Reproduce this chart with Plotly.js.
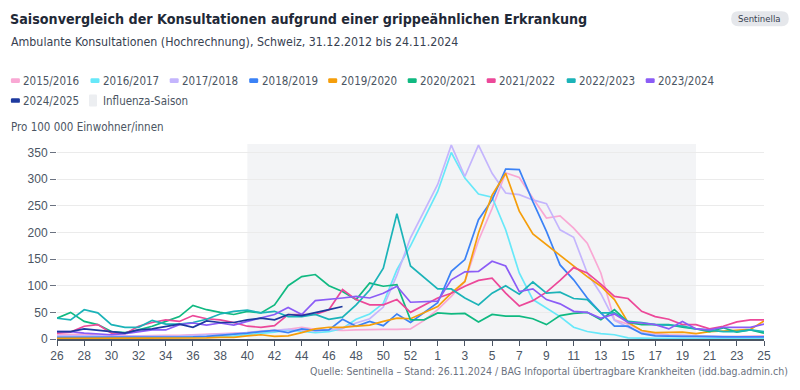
<!DOCTYPE html>
<html><head><meta charset="utf-8">
<script src="https://cdn.plot.ly/plotly-3.0.1.min.js"></script>
<style>html,body{margin:0;padding:0;background:#fff}#chart{width:800px;height:390px}</style>
</head><body><div id="chart"></div>
<script>
const weeks = ["26","27","28","29","30","31","32","33","34","35","36","37","38","39","40","41","42","43","44","45","46","47","48","49","50","51","52","53","1","2","3","4","5","6","7","8","9","10","11","12","13","14","15","16","17","18","19","20","21","22","23","24","25"];
const tickLabels = ["26","28","30","32","34","36","38","40","42","44","46","48","50","52","1","3","5","7","9","11","13","15","17","19","21","23","25"];
const seasonNames = ["2015/2016","2016/2017","2017/2018","2018/2019","2019/2020","2020/2021","2021/2022","2022/2023","2023/2024","2024/2025"];
const seasonColors = ["#f9a8d4","#67e8f9","#c4b5fd","#3b82f6","#f59e0b","#10b981","#ec4899","#1bb3b8","#8b5cf6","#1e3a9f"];
const s1516 = [8,8,9,7,6,6,6,7,7,7,8,8,9,10,12,15,16,18,22,18,17,16,17,18,18,18,19,35,55,80,108,185,245,312,303,264,227,231,208,180,124,36,28,16,10,8,7,6,5,5,5,6,6];
const s1617 = [3,3,3,2,2,2,2,3,3,3,4,4,5,6,8,10,13,17,15,12,14,20,37,47,67,130,175,null,277,350,302,272,266,205,124,74,58,42,22,14,10,8,2,1,1,1,1,1,1,1,1,1,1];
const s1718 = [6,6,7,6,5,5,5,5,6,6,7,8,8,10,12,14,15,18,16,15,17,20,30,38,60,120,190,null,290,364,305,364,311,274,271,261,254,205,191,124,85,35,22,12,8,6,5,5,5,4,4,4,4];
const s1819 = [3,3,3,3,3,3,3,3,4,4,4,5,7,8,11,14,16,12,19,16,17,37,24,33,25,47,31,null,68,127,149,224,261,319,318,258,202,139,111,77,49,24,24,10,6,5,5,5,4,4,4,4,4];
const s1920 = [1,1,1,1,1,1,1,1,1,2,2,2,3,3,6,8,5,6,12,19,22,22,24,26,33,39,38,null,61,86,108,199,270,311,240,197,177,157,136,117,99,74,31,16,12,12,13,10,14,15,17,18,34];
const s2021 = [39,50,33,27,14,12,17,24,33,42,63,55,50,46,52,49,64,100,117,121,100,89,74,105,99,102,36,36,49,47,48,32,46,43,43,38,27,44,48,50,36,55,31,27,27,27,22,19,14,21,13,17,11];
const s2122 = [11,13,24,27,11,10,24,31,36,33,44,38,36,31,24,22,25,46,46,46,55,93,74,64,64,74,50,null,77,86,99,110,114,86,62,72,88,110,134,124,103,80,76,52,42,37,27,27,19,24,32,36,36];
const s2223 = [39,36,55,49,27,22,22,35,28,28,31,37,47,52,54,49,52,42,42,46,37,41,64,92,133,235,137,null,94,94,77,64,86,100,84,107,86,88,76,74,49,49,33,31,27,26,24,19,17,14,14,17,14];
const s2324 = [14,14,11,10,8,10,14,17,17,27,30,26,30,26,33,39,46,59,46,72,74,77,80,77,86,99,69,null,71,111,126,127,146,137,89,94,74,66,52,50,39,47,31,30,27,19,33,19,17,22,22,22,28];
const s2425 = [14,14,19,17,14,11,17,19,24,28,22,34,31,31,36,39,36,46,44,49,55,61];
const seasonStart = "40", seasonEnd = "20";

const seriesList = [s1516,s1617,s1718,s1819,s1920,s2021,s2122,s2223,s2324,s2425];
const traces = seriesList.map((vals,i)=>({
  type:'scatter', mode:'lines', name:seasonNames[i],
  x: weeks.slice(0, vals.length), y: vals,
  line:{color:seasonColors[i], width:1.7}, connectgaps:true, showlegend:false,
  hoverinfo:'skip'
}));

const L=57.3, R=764.3, T=144, B=339.3;
const px = x => (x-L)/(R-L);
const py = y => (B-y)/(B-T);
const COND = '"DejaVu Sans Condensed", "DejaVu Sans", sans-serif';
const REG = '"Liberation Sans", Arial, sans-serif';

function rr(x0,y0,x1,y1,r){
  const P=(x,y)=>px(x)+','+py(y);
  return 'M'+P(x0+r,y0)+' L'+P(x1-r,y0)+' Q'+P(x1,y0)+' '+P(x1,y0+r)+' L'+P(x1,y1-r)+' Q'+P(x1,y1)+' '+P(x1-r,y1)+
    ' L'+P(x0+r,y1)+' Q'+P(x0,y1)+' '+P(x0,y1-r)+' L'+P(x0,y0+r)+' Q'+P(x0,y0)+' '+P(x0+r,y0)+' Z';
}

const shapes = [{
  type:'rect', xref:'x', yref:'paper', x0: weeks.indexOf(seasonStart), x1: weeks.indexOf(seasonEnd),
  y0:0, y1:1, fillcolor:'#f3f4f6', line:{width:0}, layer:'below'
}];
const annotations = [];
const legendItems = seasonNames.map((n,i)=>({name:n,color:seasonColors[i]}));
legendItems.push({name:'Influenza-Saison', color:'#eceef1', square:true});
const rowX = [11.2,90.8,170,249.5,328.5,408,487,567,646];
legendItems.forEach((it,k)=>{
  const row = k<9?0:1; const col = k<9?k:k-9;
  const x0 = rowX[col]; const yc = row===0?80.5:100.5;
  if(it.square){
    shapes.push({type:'path',xref:'paper',yref:'paper',path:rr(x0-1.5,yc-6,x0+6.5,yc+6,1),fillcolor:it.color,line:{width:0}});
  } else {
    shapes.push({type:'path',xref:'paper',yref:'paper',path:rr(x0,yc-2.3,x0+9,yc+2.3,1.2),fillcolor:it.color,line:{width:0}});
  }
  annotations.push({xref:'paper',yref:'paper',x:px(x0+10.5),y:py(yc),xanchor:'left',yanchor:'middle',showarrow:false,
    text:it.name,font:{family:COND,size:11.5,color:'#4b5563'}});
});
annotations.push({xref:'paper',yref:'paper',x:px(9),y:py(41.5),xanchor:'left',yanchor:'middle',showarrow:false,
  text:'Ambulante Konsultationen (Hochrechnung), Schweiz, 31.12.2012 bis 24.11.2024',font:{family:COND,size:12.3,color:'#374151'}});
annotations.push({xref:'paper',yref:'paper',x:px(9),y:py(127),xanchor:'left',yanchor:'middle',showarrow:false,
  text:'Pro 100 000 Einwohner/innen',font:{family:COND,size:11.5,color:'#4b5563'}});
annotations.push({xref:'paper',yref:'paper',x:px(790),y:py(371),xanchor:'right',yanchor:'middle',showarrow:false,
  text:'Quelle: Sentinella – Stand: 26.11.2024 / BAG Infoportal übertragbare Krankheiten (idd.bag.admin.ch)',font:{family:COND,size:10.5,color:'#6b7280'}});
shapes.push({type:'path',xref:'paper',yref:'paper',path:rr(731.5,11,789,26,7),fillcolor:'#e5e7eb',line:{width:0}});
annotations.push({xref:'paper',yref:'paper',x:px(760.2),y:py(18.5),xanchor:'center',yanchor:'middle',showarrow:false,
  text:'Sentinella',font:{family:COND,size:9.5,color:'#374151'}});

const layout = {
  width:800, height:390, paper_bgcolor:'#fff', plot_bgcolor:'rgba(0,0,0,0)',
  margin:{l:L, r:800-R, t:T, b:390-B, pad:0},
  showlegend:false,
  title:{text:'Saisonvergleich der Konsultationen aufgrund einer grippeähnlichen Erkrankung', xref:'container', yref:'container',
    x:10/800, xanchor:'left', y:1-19.5/390, yanchor:'middle', font:{family:COND, size:14.2, weight:700, color:'#1f2937'}},
  xaxis:{type:'category', categoryorder:'array', categoryarray:weeks, range:[0,weeks.length-1],
    tickmode:'array', tickvals:tickLabels, ticktext:tickLabels, ticks:'outside', ticklen:5, tickwidth:1, tickcolor:'#4b5563',
    showline:true, linecolor:'#4b5563', linewidth:1.5, showgrid:false, zeroline:false,
    tickfont:{family:REG, size:12, color:'#4b5563'}, fixedrange:true},
  yaxis:{range:[0,366], tickmode:'linear', tick0:0, dtick:50, ticks:'outside', ticklen:6, tickcolor:'#6b7280', tickwidth:1,
    showline:false, gridcolor:'#ebebeb', gridwidth:1, zeroline:false,
    tickfont:{family:REG, size:12, color:'#4b5563'}, fixedrange:true},
  shapes, annotations
};
Plotly.newPlot('chart', traces, layout, {displayModeBar:false, staticPlot:true});
</script></body></html>
